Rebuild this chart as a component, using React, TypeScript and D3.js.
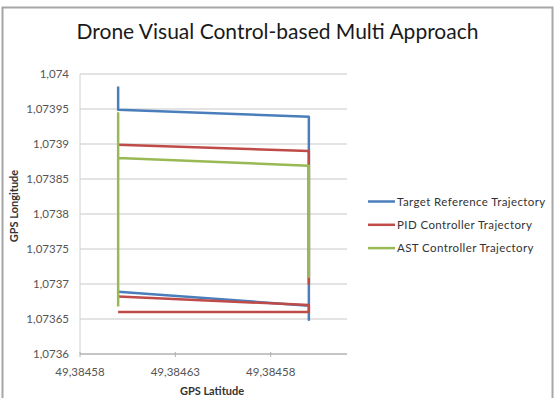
import React from "react";
import * as d3 from "d3";

const W = 555;
const H = 398;

const title = "Drone Visual Control-based Multi Approach";
const xTitle = "GPS Latitude";
const yTitle = "GPS Longitude";

const xTickValues = [49.38458, 49.38463, 49.38468];
const xTickLabels = ["49,38458", "49,38463", "49,38458"];
const yTickValues = [1.0736, 1.07365, 1.0737, 1.07375, 1.0738, 1.07385, 1.0739, 1.07395, 1.074];
const yTickLabels = ["1,0736", "1,07365", "1,0737", "1,07375", "1,0738", "1,07385", "1,0739", "1,07395", "1,074"];

const seriesNames = ["Target Reference Trajectory", "PID Controller Trajectory", "AST Controller Trajectory"];
const seriesColors = ["#4a7ebb", "#be4b48", "#98b954"];

type P = [number, number] | null;

// null breaks the line
const targetPoints: P[] = [
  [49.3846, 1.073982],
  [49.3846, 1.073949],
  [49.3847, 1.073939],
  [49.3847, 1.073649],
  [49.3847, 1.073669],
  [49.3846, 1.073689],
];
const pidPoints: P[] = [
  [49.3846, 1.073899],
  [49.3847, 1.07389],
  [49.3847, 1.073699],
  null,
  [49.3846, 1.073682],
  [49.3847, 1.07367],
  [49.3847, 1.07366],
  [49.3846, 1.07366],
];
const astPoints: P[] = [
  [49.3846, 1.073668],
  [49.3846, 1.073944],
  [49.3846, 1.07388],
  [49.3847, 1.073869],
  [49.3847, 1.073709],
];

const seriesData = [targetPoints, pidPoints, astPoints];

const font = "Lato, 'Open Sans', sans-serif";

export default function App() {
  const x = d3.scaleLinear().domain([49.38458, 49.38472]).range([80, 347]);
  const y = d3.scaleLinear().domain([1.0736, 1.074]).range([354, 74]);
  const line = d3
    .line<P>()
    .defined((d) => d !== null)
    .x((d) => x((d as [number, number])[0]))
    .y((d) => y((d as [number, number])[1]));

  return (
    <svg
      width={W}
      height={H}
      style={{ position: "absolute", left: 0, top: 0, background: "#fff" }}
      fontFamily={font}
    >
      <rect x={0} y={0} width={W} height={H} fill="#fff" />
      <rect x={2.5} y={7.5} width={550} height={400} fill="none" stroke="#a6a6a6" strokeWidth={2} />
      <text x={277.5} y={39} textAnchor="middle" fontSize={21} fill="#1a1a1a">
        {title}
      </text>
      {/* gridlines */}
      {yTickValues.map((v, i) =>
        i === 0 ? null : (
          <line key={i} x1={80} x2={347} y1={y(v)} y2={y(v)} stroke="#c8c8c8" strokeWidth={1} />
        )
      )}
      {/* axes */}
      <line x1={80} x2={80} y1={74} y2={354} stroke="#d0d0d0" strokeWidth={1} />
      <line x1={80} x2={347} y1={354} y2={354} stroke="#8a8a8a" strokeWidth={1} />
      {xTickValues.map((v, i) => (
        <line key={i} x1={x(v)} x2={x(v)} y1={352} y2={357} stroke="#b0b0b0" strokeWidth={1} />
      ))}
      {yTickValues.map((v, i) => (
        <text key={i} x={69} y={y(v)} dy="0.35em" textAnchor="end" fontSize={11.5} fill="#555">
          {yTickLabels[i]}
        </text>
      ))}
      {xTickValues.map((v, i) => (
        <text key={i} x={x(v)} y={376} textAnchor="middle" fontSize={11.5} fill="#555">
          {xTickLabels[i]}
        </text>
      ))}
      <text x={212} y={395} textAnchor="middle" fontSize={11} fontWeight="bold" fill="#333">
        {xTitle}
      </text>
      <text
        transform={`translate(18,206) rotate(-90)`}
        textAnchor="middle"
        fontSize={11}
        fontWeight="bold"
        fill="#333"
      >
        {yTitle}
      </text>
      {/* series */}
      {seriesData.map((pts, i) => (
        <path
          key={i}
          d={line(pts) || ""}
          fill="none"
          stroke={seriesColors[i]}
          strokeWidth={2.5}
          strokeLinejoin="round"
        />
      ))}
      {/* legend */}
      {seriesNames.map((n, i) => (
        <g key={i} transform={`translate(368,${201.5 + i * 23.3})`}>
          <line x1={0} x2={27} y1={0} y2={0} stroke={seriesColors[i]} strokeWidth={2.5} />
          <text x={29} y={0} dy="0.35em" fontSize={11.5} letterSpacing={0.4} fill="#333">
            {n}
          </text>
        </g>
      ))}
    </svg>
  );
}
